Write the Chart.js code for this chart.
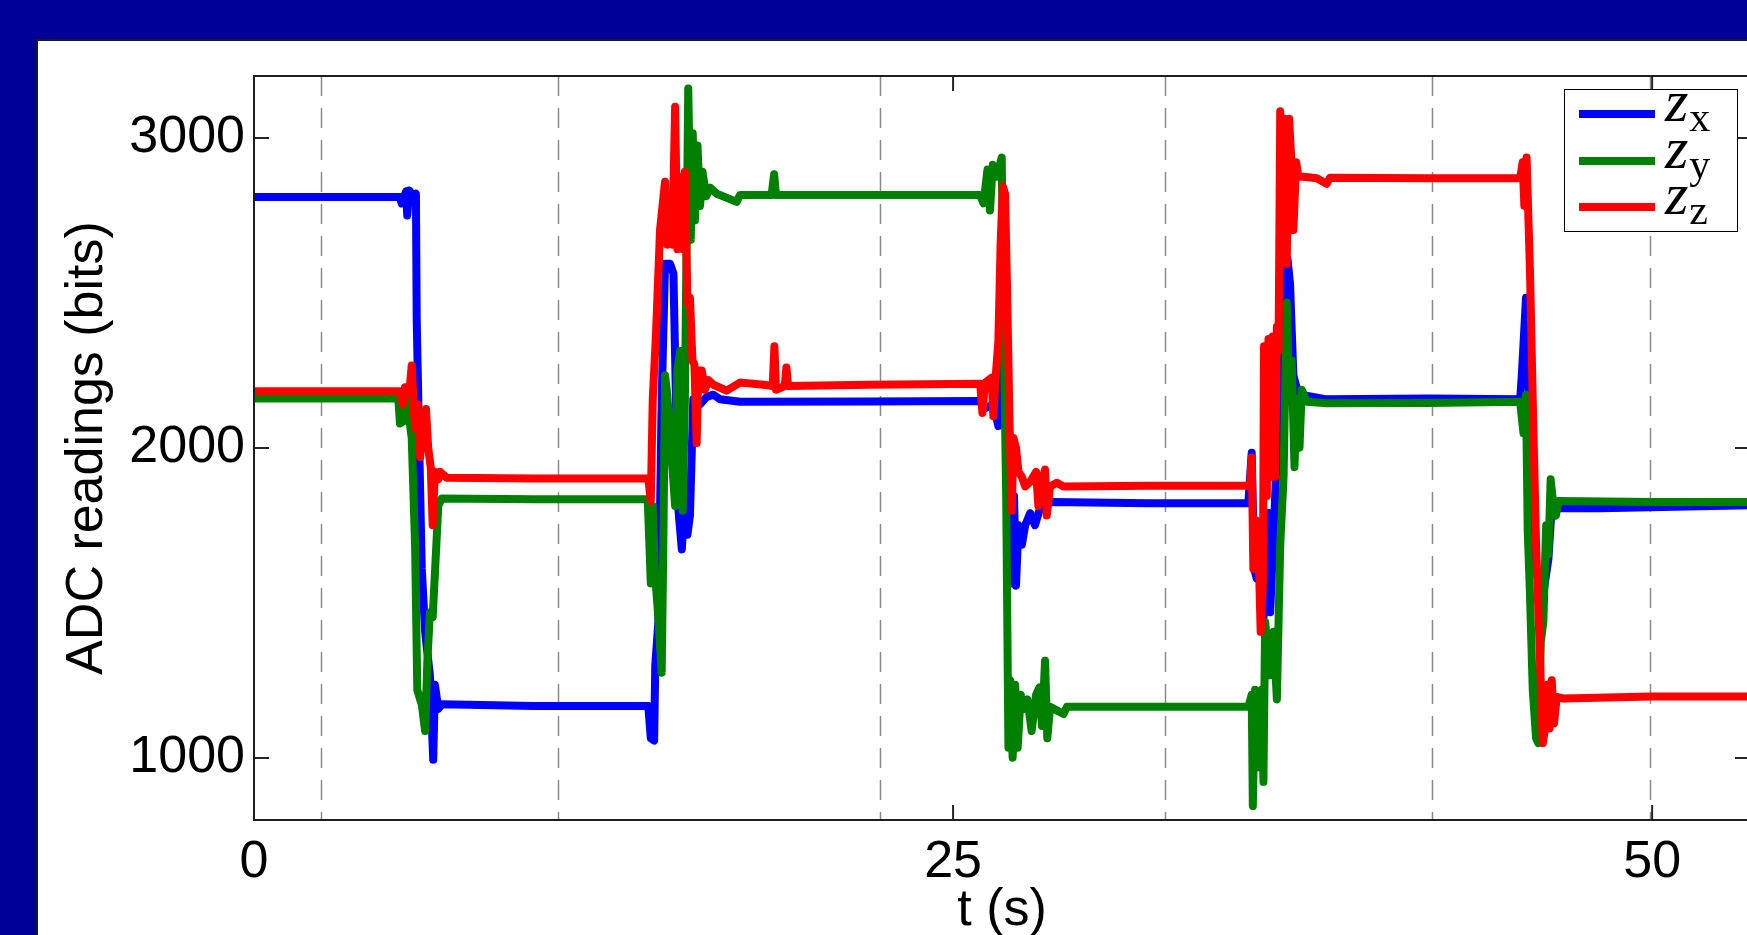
<!DOCTYPE html>
<html>
<head>
<meta charset="utf-8">
<script src="https://cdn.jsdelivr.net/npm/chart.js@4.4.1/dist/chart.umd.min.js"></script>
<style>
  html, body { margin:0; padding:0; }
  body { width:1747px; height:935px; overflow:hidden; background:#000099; position:relative; }
  #panel { position:absolute; left:36px; top:39px; right:-10px; bottom:-10px; background:#fff; border-left:2px solid #1a1a1a; border-top:2px solid #1a1a1a; }
  #cv { position:absolute; left:0; top:0; }
  #legend { position:absolute; left:1564px; top:89px; width:174px; height:143px; box-sizing:border-box;
            border:1.5px solid #000; background:#fff; padding-top:1px; }
  #legend .row { height:46.5px; display:flex; align-items:center; }
  #legend .sw { display:inline-block; margin-left:14px; width:76px; height:8px; }
  #legend .lab { margin-left:10px; font-family:"Liberation Serif","DejaVu Serif",serif; font-size:60px; line-height:60px; position:relative; top:-10px; color:#000; white-space:nowrap; }
  #legend .lab i { font-style:italic; }
  #legend .lab .sub { font-size:42px; position:relative; top:10px; margin-left:1px; }
</style>
</head>
<body>
<div id="panel"></div>
<canvas id="cv" width="1760" height="960"></canvas>
<div id="legend"></div>
<script>
// ---- data (t in s, ADC reading in bits) ----
const seriesLabels = ['z_x', 'z_y', 'z_z'];
const seriesColors = ['#0000ff', '#008000', '#ff0000'];
const xTicks = [0, 25, 50];
const yTicks = [1000, 2000, 3000];
const gridT = [2.4, 10.87, 22.39, 32.58, 42.12, 49.93];

const zx = [[0,2810],[5.22,2810],[5.28,2789],[5.44,2828],[5.48,2750],[5.55,2831],[5.70,2812],[5.79,2820],[5.82,2407],[5.91,2001],[6.00,1610],[6.12,1407],[6.29,1267],[6.41,994],[6.47,1236],[6.59,1158],[6.71,1173],[10,1168],[14.10,1168],[14.19,1064],[14.31,1056],[14.35,1298],[14.46,1439],[14.58,2157],[14.70,2594],[14.88,2594],[15.00,2563],[15.09,2157],[15.18,1798],[15.30,1673],[15.41,1845],[15.50,1720],[15.59,1782],[15.71,2157],[15.95,2141],[16.19,2165],[16.43,2172],[16.67,2157],[17.38,2149],[22,2150],[25.97,2152],[26.09,2126],[26.44,2141],[26.62,2071],[26.74,2313],[26.82,2280],[26.98,2079],[27.10,1563],[27.18,1845],[27.25,1556],[27.34,1751],[27.46,1688],[27.58,1751],[27.76,1790],[27.93,1751],[28.11,1806],[28.47,1826],[32,1822],[35.56,1822],[35.68,1985],[35.77,1610],[35.86,1579],[35.98,1688],[36.10,1454],[36.28,1790],[36.34,1470],[36.52,1845],[36.64,2157],[36.82,2375],[36.96,2610],[37.05,2531],[37.17,2235],[37.35,2172],[37.53,2170],[38.36,2157],[42,2160],[45.28,2157],[45.34,2235],[45.49,2485],[45.58,2250],[45.69,1845],[45.87,1595],[46.11,1532],[46.29,1642],[46.41,1813],[46.59,1806],[48.14,1806],[53.5,1815]];

const zy = [[0,2160],[5.16,2160],[5.22,2079],[5.34,2086],[5.46,2157],[5.64,2032],[5.76,1688],[5.84,1220],[5.94,1189],[6.00,1173],[6.12,1087],[6.20,1314],[6.29,1470],[6.39,1454],[6.47,1595],[6.59,1813],[6.71,1837],[10,1835],[14.08,1835],[14.14,1688],[14.19,1563],[14.26,1813],[14.34,1595],[14.46,1454],[14.58,1275],[14.64,1700],[14.70,2235],[14.78,2172],[14.88,2032],[14.95,1954],[15.06,1813],[15.14,2250],[15.24,2313],[15.33,1798],[15.41,2157],[15.53,3160],[15.62,2672],[15.69,3015],[15.77,2734],[15.86,2976],[15.95,2781],[16.04,2891],[16.17,2812],[16.31,2840],[16.55,2820],[17.26,2794],[17.38,2816],[18.51,2816],[18.60,2883],[18.67,2816],[22,2816],[25.97,2816],[26.09,2789],[26.23,2898],[26.32,2766],[26.42,2914],[26.56,2875],[26.74,2937],[26.82,2313],[26.90,1845],[26.98,1033],[27.04,1251],[27.13,1001],[27.22,1236],[27.31,1033],[27.42,1204],[27.52,1158],[27.66,1189],[27.81,1087],[27.97,1204],[28.09,1228],[28.18,1103],[28.29,1314],[28.37,1064],[28.47,1165],[28.95,1142],[29.07,1165],[32,1165],[35.56,1165],[35.68,1204],[35.72,845],[35.80,1220],[35.92,970],[36.04,1220],[36.10,923],[36.16,1439],[36.34,1267],[36.46,1407],[36.58,1189],[36.70,1688],[36.82,1907],[36.93,2469],[37.03,2157],[37.11,2282],[37.21,1938],[37.29,2157],[37.39,2001],[37.47,2188],[37.65,2149],[38.36,2144],[42,2145],[45.28,2149],[45.40,2047],[45.49,2172],[45.55,1735],[45.63,1532],[45.73,1220],[45.85,1064],[45.93,1048],[46.02,1376],[46.11,1439],[46.21,1751],[46.29,1657],[46.37,1899],[46.47,1813],[46.56,1782],[46.65,1829],[50,1826],[53.5,1826]];

const zz = [[0,2183],[5.22,2183],[5.32,2141],[5.40,2196],[5.55,2175],[5.64,2266],[5.70,2157],[5.76,2063],[5.84,2141],[5.94,1970],[6.06,2079],[6.15,2126],[6.23,2001],[6.32,1938],[6.39,1751],[6.47,1923],[6.59,1899],[6.65,1923],[6.89,1904],[10,1902],[14.10,1902],[14.19,1829],[14.26,2157],[14.38,2375],[14.52,2703],[14.70,2859],[14.78,2656],[14.88,2797],[14.96,2656],[15.06,3101],[15.14,2641],[15.24,2875],[15.35,2641],[15.41,2891],[15.50,2469],[15.59,2485],[15.68,2282],[15.75,2270],[15.83,2016],[15.89,2250],[16.01,2250],[16.13,2188],[16.25,2219],[16.43,2204],[16.90,2185],[17.38,2211],[18.22,2204],[18.55,2200],[18.61,2328],[18.67,2188],[18.98,2200],[19.04,2260],[19.10,2200],[22,2204],[25.97,2207],[26.05,2113],[26.14,2210],[26.38,2227],[26.44,2102],[26.54,2250],[26.62,2344],[26.70,2656],[26.78,2844],[26.86,2820],[26.94,2469],[27.02,2079],[27.10,1798],[27.16,2032],[27.25,2001],[27.34,1923],[27.46,1907],[27.58,1876],[27.76,1891],[27.97,1923],[28.05,1813],[28.17,1891],[28.29,1930],[28.35,1782],[28.47,1876],[28.71,1888],[28.95,1876],[32,1878],[35.56,1878],[35.62,1880],[35.68,1969],[35.74,1610],[35.84,1766],[35.92,1688],[36.00,1407],[36.08,1563],[36.12,2328],[36.22,1845],[36.28,2352],[36.36,1907],[36.43,2360],[36.52,1907],[36.58,2391],[36.64,2313],[36.70,3086],[36.78,2625],[36.85,3062],[36.93,2594],[37.02,3062],[37.09,2937],[37.17,2703],[37.27,2922],[37.35,2875],[37.53,2875],[38.01,2870],[38.36,2852],[38.48,2872],[42,2870],[45.28,2870],[45.37,2922],[45.43,2781],[45.51,2937],[45.63,2578],[45.73,2157],[45.85,1688],[45.97,1376],[46.09,1048],[46.17,1095],[46.25,1236],[46.33,1095],[46.41,1251],[46.49,1111],[46.59,1197],[46.83,1192],[50,1198],[53.5,1198]];

const xMin = 0, xMax = 53.5, yMin = 800, yMax = 3200;

// ---- plugins ----
const matlabAxes = {
  id: 'matlabAxes',
  beforeDatasetsDraw(chart) {
    const {ctx, chartArea: a, scales: {x}} = chart;
    ctx.save();
    ctx.beginPath();
    gridT.forEach(t => { const px = Math.round(x.getPixelForValue(t)) + 0.5; ctx.moveTo(px, a.top); ctx.lineTo(px, a.bottom); });
    ctx.setLineDash([20, 12]);
    ctx.strokeStyle = '#8a8a8a';
    ctx.lineWidth = 1.5;
    ctx.stroke();
    ctx.restore();
  },
  afterDatasetsDraw(chart) {
    const {ctx, chartArea: a, scales: {x, y}} = chart;
    const tl = 15;
    ctx.save();
    ctx.strokeStyle = '#262626';
    ctx.lineWidth = 2;
    ctx.beginPath();
    xTicks.forEach(v => { const px = x.getPixelForValue(v);
      ctx.moveTo(px, a.bottom); ctx.lineTo(px, a.bottom - tl);
      ctx.moveTo(px, a.top); ctx.lineTo(px, a.top + tl); });
    yTicks.forEach(v => { const py = y.getPixelForValue(v);
      ctx.moveTo(a.left, py); ctx.lineTo(a.left + tl, py);
      ctx.moveTo(a.right, py); ctx.lineTo(a.right - tl, py); });
    ctx.stroke();
    ctx.lineWidth = 2;
    ctx.strokeStyle = '#1e1e1e';
    ctx.strokeRect(a.left, a.top, a.right - a.left, a.bottom - a.top);
    ctx.restore();
  }
};

const htmlLegend = {
  id: 'htmlLegend',
  afterUpdate(chart) {
    const box = document.getElementById('legend');
    box.innerHTML = '';
    chart.data.datasets.forEach(ds => {
      const row = document.createElement('div'); row.className = 'row';
      const sw = document.createElement('span'); sw.className = 'sw'; sw.style.background = ds.borderColor;
      const [base, sub] = ds.label.split('_');
      const lab = document.createElement('span'); lab.className = 'lab';
      const bi = document.createElement('i'); bi.textContent = base;
      const si = document.createElement('span'); si.className = 'sub'; si.textContent = sub;
      lab.appendChild(bi); lab.appendChild(si);
      row.appendChild(sw); row.appendChild(lab);
      box.appendChild(row);
    });
  }
};

const toXY = arr => arr.map(p => ({x: p[0], y: p[1]}));
const seriesData = [zx, zy, zz];

Chart.defaults.font.family = '"Liberation Sans", Arial, Helvetica, sans-serif';
Chart.defaults.color = '#000';

new Chart(document.getElementById('cv'), {
  type: 'line',
  data: {
    datasets: seriesData.map((d, i) => ({
      label: seriesLabels[i],
      data: toXY(d),
      borderColor: seriesColors[i],
      backgroundColor: seriesColors[i],
      borderWidth: 8,
      borderJoinStyle: 'round',
      borderCapStyle: 'round',
      pointRadius: 0,
      tension: 0,
      fill: false,
      order: 2 - i
    }))
  },
  options: {
    responsive: false,
    devicePixelRatio: 1,
    animation: false,
    layout: { padding: { left: 0, top: 76, right: 10, bottom: 0 } },
    plugins: { legend: { display: false }, tooltip: { enabled: false } },
    scales: {
      x: {
        type: 'linear', min: xMin, max: xMax,
        afterBuildTicks: s => { s.ticks = xTicks.map(v => ({value: v})); },
        afterFit: s => { s.height = 140; },
        grid: { display: false, drawTicks: false },
        border: { display: false },
        ticks: { padding: 11, autoSkip: false, maxRotation: 0, font: { size: 52 }, color: '#000', callback: v => String(v) },
        title: { display: true, text: 't (s)', font: { size: 52 }, color: '#000', padding: { top: 0, bottom: 18 } }
      },
      y: {
        type: 'linear', min: yMin, max: yMax,
        afterBuildTicks: s => { s.ticks = yTicks.map(v => ({value: v})); },
        afterFit: s => { s.width = 254; },
        grid: { display: false, drawTicks: false },
        border: { display: false },
        ticks: { padding: 9, font: { size: 52 }, color: '#000', callback: v => String(v) },
        title: { display: true, text: 'ADC readings (bits)', font: { size: 52 }, color: '#000', padding: { top: 56, bottom: 0 } }
      }
    }
  },
  plugins: [matlabAxes, htmlLegend]
});
</script>
</body>
</html>
